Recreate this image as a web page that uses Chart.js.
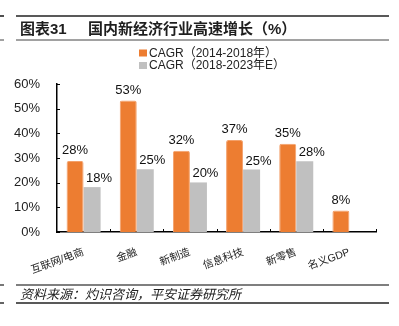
<!DOCTYPE html>
<html>
<head>
<meta charset="utf-8">
<script src="https://cdn.jsdelivr.net/npm/chart.js@4/dist/chart.umd.min.js"></script>
<style>
  body { margin: 0; background: #fff; }
  canvas { display: block; }
</style>
</head>
<body>
<canvas id="chart" width="399" height="326"></canvas>
<script>
// data
const categories = ['互联网/电商', '金融', '新制造', '信息科技', '新零售', '名义GDP'];
const cagr2014to2018 = [28.8, 53.3, 32.9, 37.3, 35.8, 8.7];
const cagr2018to2023 = [18.2, 25.4, 20.1, 25.3, 28.7, null];
const seriesNames = ['CAGR（2014-2018年）', 'CAGR（2018-2023年E）'];
const yTicks = [0, 10, 20, 30, 40, 50, 60];
const titleNo = '图表31';
const titleText = '国内新经济行业高速增长（%）';
const sourceText = '资料来源：灼识咨询，平安证券研究所';

const FONT = '"Liberation Sans", "Noto Sans CJK SC", sans-serif';
const ORANGE = '#ED7D31';
const GREY = '#C0C0C0';
const INK = '#1e1e1e';

function hline(ctx, x1, x2, y, w, color) {
    ctx.beginPath();
    ctx.strokeStyle = color;
    ctx.lineWidth = w;
    ctx.moveTo(x1, y);
    ctx.lineTo(x2, y);
    ctx.stroke();
}

// everything around the plot: frame lines, title, source, legend, tick marks, value labels
const decorations = {
    id: 'decorations',
    afterDraw(chart) {
        const ctx = chart.ctx;
        const area = chart.chartArea;
        const ys = chart.scales.y;
        ctx.save();

        // header / footer rules
        hline(ctx, 0, 4, 16, 1.6, '#222');
        hline(ctx, 16, 389, 16, 1.6, '#222');
        hline(ctx, 0, 4, 40, 1, '#444');
        hline(ctx, 16, 389, 40, 1, '#444');
        hline(ctx, 0, 4, 285, 1.6, '#555');
        hline(ctx, 16, 389, 285, 1.6, '#555');
        hline(ctx, 0, 4, 303, 1.4, '#222');
        hline(ctx, 16, 389, 303, 1.4, '#222');

        // title
        ctx.fillStyle = INK;
        ctx.textBaseline = 'middle';
        ctx.textAlign = 'left';
        ctx.font = 'bold 15px ' + FONT;
        ctx.fillText(titleNo, 20, 30);
        ctx.fillText(titleText, 88, 30);

        // source
        ctx.font = 'italic 13px ' + FONT;
        ctx.fillStyle = '#222';
        ctx.fillText(sourceText, 20, 295);

        // legend, stacked
        ctx.font = '12px ' + FONT;
        chart.data.datasets.forEach((ds, i) => {
            const y = 53 + i * 12.5;
            ctx.fillStyle = ds.backgroundColor;
            ctx.fillRect(139, y - 3.5, 8, 7);
            ctx.fillStyle = '#222';
            ctx.fillText(ds.label, 149, y + 0.5);
        });

        // inward tick marks
        ctx.strokeStyle = '#000';
        ctx.lineWidth = 1;
        yTicks.forEach(v => {
            const y = Math.round(ys.getPixelForValue(v)) + 0.5;
            ctx.beginPath();
            ctx.moveTo(area.left, y);
            ctx.lineTo(area.left + 3, y);
            ctx.stroke();
        });
        const step = (area.right - area.left) / categories.length;
        for (let i = 1; i <= categories.length; i++) {
            const x = Math.round(area.left + i * step) + 0.5;
            ctx.beginPath();
            ctx.moveTo(x, area.bottom);
            ctx.lineTo(x, area.bottom - 3);
            ctx.stroke();
        }

        // value labels
        ctx.font = '13px ' + FONT;
        ctx.fillStyle = '#111';
        ctx.textAlign = 'center';
        ctx.textBaseline = 'alphabetic';
        chart.data.datasets.forEach((ds, i) => {
            chart.getDatasetMeta(i).data.forEach((bar, j) => {
                const v = ds.data[j];
                if (v === null || v === undefined) return;
                const text = Math.floor(v) + '%';
                if (i === 0) {
                    ctx.fillText(text, bar.x, bar.y - 7);
                } else {
                    ctx.fillText(text, bar.x + 7, bar.y - 5);
                }
            });
        });

        ctx.restore();
    }
};

const ctx = document.getElementById('chart').getContext('2d');
new Chart(ctx, {
    type: 'bar',
    data: {
        labels: categories,
        datasets: [{
            label: seriesNames[0],
            data: cagr2014to2018,
            backgroundColor: ORANGE,
            borderColor: '#F3A06A',
            borderWidth: 1,
            borderRadius: 2
        }, {
            label: seriesNames[1],
            data: cagr2018to2023,
            backgroundColor: GREY,
            borderWidth: 0
        }]
    },
    options: {
        responsive: false,
        animation: false,
        layout: { padding: { top: 84, right: 23, left: 0, bottom: 0 } },
        datasets: { bar: { categoryPercentage: 0.64, barPercentage: 1 } },
        plugins: {
            legend: { display: false },
            tooltip: { enabled: false }
        },
        scales: {
            x: {
                grid: { display: false },
                border: { color: '#000', width: 1.5 },
                ticks: {
                    font: { size: 10.5, family: FONT },
                    color: '#222',
                    maxRotation: 20,
                    minRotation: 20,
                    autoSkip: false,
                    padding: 6
                },
                afterFit(scale) { scale.height = 94; }
            },
            y: {
                min: 0,
                max: 60,
                grid: { display: false },
                border: { color: '#000', width: 1.5 },
                ticks: {
                    font: { size: 13, family: FONT },
                    color: '#222',
                    padding: 9,
                    callback: v => v + '%'
                },
                afterBuildTicks(scale) { scale.ticks = yTicks.map(v => ({ value: v })); },
                afterFit(scale) { scale.width = 57; }
            }
        }
    },
    plugins: [decorations]
});
</script>
</body>
</html>
